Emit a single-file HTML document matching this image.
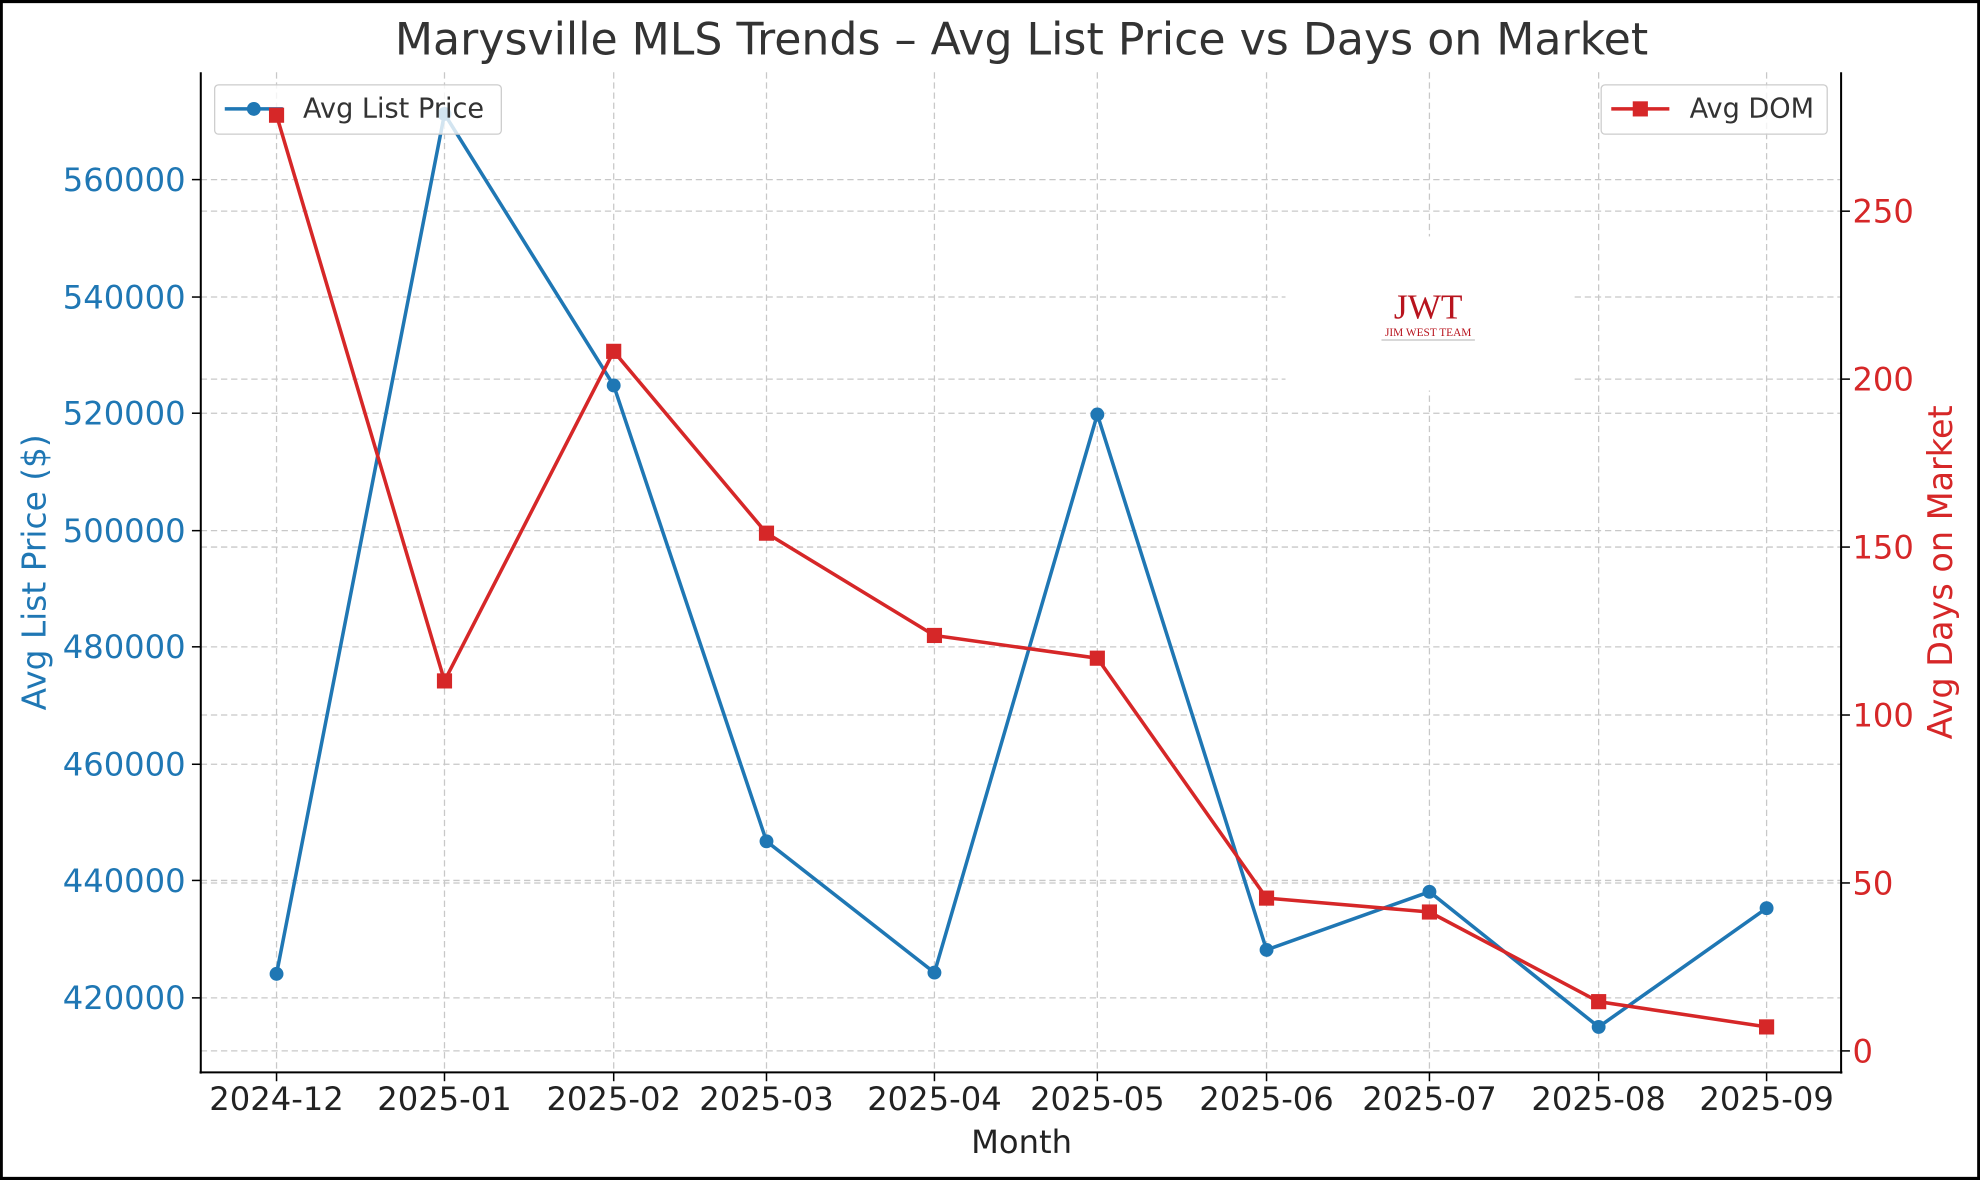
<!DOCTYPE html>
<html><head><meta charset="utf-8"><style>html,body{margin:0;padding:0;background:#fff}svg{display:block}</style></head>
<body>
<svg width="1980" height="1180" viewBox="0 0 1568 934" xmlns="http://www.w3.org/2000/svg" font-family="'DejaVu Sans','Liberation Sans',sans-serif">
<rect x="1" y="1" width="1566" height="932" fill="#fff" stroke="#000" stroke-width="2.5"/>
<g stroke="#c8c8c8" stroke-width="1" stroke-dasharray="5,3">
<line x1="219" y1="57" x2="219" y2="849"/><line x1="352" y1="57" x2="352" y2="849"/><line x1="486" y1="57" x2="486" y2="849"/><line x1="607" y1="57" x2="607" y2="849"/><line x1="740" y1="57" x2="740" y2="849"/><line x1="869" y1="57" x2="869" y2="849"/><line x1="1003" y1="57" x2="1003" y2="849"/><line x1="1132" y1="57" x2="1132" y2="849"/><line x1="1266" y1="57" x2="1266" y2="849"/><line x1="1399" y1="57" x2="1399" y2="849"/>
<line x1="159" y1="142" x2="1458" y2="142"/><line x1="159" y1="235" x2="1458" y2="235"/><line x1="159" y1="327" x2="1458" y2="327"/><line x1="159" y1="420" x2="1458" y2="420"/><line x1="159" y1="512" x2="1458" y2="512"/><line x1="159" y1="605" x2="1458" y2="605"/><line x1="159" y1="697" x2="1458" y2="697"/><line x1="159" y1="790" x2="1458" y2="790"/>
<line x1="159" y1="832" x2="1458" y2="832"/><line x1="159" y1="699" x2="1458" y2="699"/><line x1="159" y1="566" x2="1458" y2="566"/><line x1="159" y1="433" x2="1458" y2="433"/><line x1="159" y1="300" x2="1458" y2="300"/><line x1="159" y1="167" x2="1458" y2="167"/>
</g>
<rect x="1018" y="187" width="228" height="122" fill="#fff"/>
<text x="1131" y="252" text-anchor="middle" font-family="'Liberation Serif',serif" font-size="28" fill="#b8141e">JWT</text>
<text x="1131" y="266" text-anchor="middle" font-family="'Liberation Serif',serif" font-size="9" fill="#b8141e">JIM WEST TEAM</text>
<line x1="1094" y1="269" x2="1168" y2="269" stroke="#999" stroke-width="0.6"/>
<g stroke="#000" stroke-width="1.6" fill="none">
<line x1="159" y1="57" x2="159" y2="850"/><line x1="158" y1="849" x2="1459" y2="849"/><line x1="1458" y1="57" x2="1458" y2="850"/>
</g>
<g stroke="#000" stroke-width="1.2">
<line x1="219" y1="849" x2="219" y2="856"/><line x1="352" y1="849" x2="352" y2="856"/><line x1="486" y1="849" x2="486" y2="856"/><line x1="607" y1="849" x2="607" y2="856"/><line x1="740" y1="849" x2="740" y2="856"/><line x1="869" y1="849" x2="869" y2="856"/><line x1="1003" y1="849" x2="1003" y2="856"/><line x1="1132" y1="849" x2="1132" y2="856"/><line x1="1266" y1="849" x2="1266" y2="856"/><line x1="1399" y1="849" x2="1399" y2="856"/>
<line x1="152" y1="142" x2="159" y2="142"/><line x1="152" y1="235" x2="159" y2="235"/><line x1="152" y1="327" x2="159" y2="327"/><line x1="152" y1="420" x2="159" y2="420"/><line x1="152" y1="512" x2="159" y2="512"/><line x1="152" y1="605" x2="159" y2="605"/><line x1="152" y1="697" x2="159" y2="697"/><line x1="152" y1="790" x2="159" y2="790"/>
<line x1="1458" y1="832" x2="1465" y2="832"/><line x1="1458" y1="699" x2="1465" y2="699"/><line x1="1458" y1="566" x2="1465" y2="566"/><line x1="1458" y1="433" x2="1465" y2="433"/><line x1="1458" y1="300" x2="1465" y2="300"/><line x1="1458" y1="167" x2="1465" y2="167"/>
</g>
<g font-size="25.5" fill="#222" text-anchor="middle">
<text x="219" y="879">2024-12</text><text x="352" y="879">2025-01</text><text x="486" y="879">2025-02</text><text x="607" y="879">2025-03</text><text x="740" y="879">2025-04</text><text x="869" y="879">2025-05</text><text x="1003" y="879">2025-06</text><text x="1132" y="879">2025-07</text><text x="1266" y="879">2025-08</text><text x="1399" y="879">2025-09</text>
<text x="809" y="913">Month</text>
</g>
<text x="809" y="43" text-anchor="middle" font-size="35" fill="#333">Marysville MLS Trends – Avg List Price vs Days on Market</text>
<g font-size="25.5" fill="#1f77b4" text-anchor="end">
<text x="147" y="151">560000</text><text x="147" y="244">540000</text><text x="147" y="336">520000</text><text x="147" y="429">500000</text><text x="147" y="521">480000</text><text x="147" y="614">460000</text><text x="147" y="706">440000</text><text x="147" y="799">420000</text>
</g>
<text transform="translate(36,453) rotate(-90)" text-anchor="middle" font-size="26" fill="#1f77b4">Avg List Price ($)</text>
<g font-size="25.5" fill="#d62728">
<text x="1467" y="841">0</text><text x="1467" y="708">50</text><text x="1467" y="575">100</text><text x="1467" y="442">150</text><text x="1467" y="309">200</text><text x="1467" y="176">250</text>
</g>
<text transform="translate(1546,453) rotate(-90)" text-anchor="middle" font-size="26.5" fill="#d62728">Avg Days on Market</text>
<polyline fill="none" stroke="#1f77b4" stroke-width="2.8" points="219,771 352,90 486,305 607,666 740,770 869,328 1003,752 1132,706 1266,813 1399,719"/>
<g fill="#1f77b4">
<circle cx="219" cy="771" r="5.5"/><circle cx="352" cy="90" r="5.5"/><circle cx="486" cy="305" r="5.5"/><circle cx="607" cy="666" r="5.5"/><circle cx="740" cy="770" r="5.5"/><circle cx="869" cy="328" r="5.5"/><circle cx="1003" cy="752" r="5.5"/><circle cx="1132" cy="706" r="5.5"/><circle cx="1266" cy="813" r="5.5"/><circle cx="1399" cy="719" r="5.5"/>
</g>
<rect x="170" y="67" width="227" height="39" rx="3" fill="#fff" fill-opacity="0.8" stroke="#ccc"/>
<line x1="178" y1="86" x2="224" y2="86" stroke="#1f77b4" stroke-width="2.8"/><circle cx="201" cy="86" r="5.5" fill="#1f77b4"/>
<text x="240" y="93" font-size="21.5" fill="#333">Avg List Price</text>
<polyline fill="none" stroke="#d62728" stroke-width="2.8" points="219,91 352,539 486,278 607,422 740,503 869,521 1003,711 1132,722 1266,793 1399,813"/>
<g fill="#d62728">
<rect x="213" y="85" width="12" height="12"/><rect x="346" y="533" width="12" height="12"/><rect x="480" y="272" width="12" height="12"/><rect x="601" y="416" width="12" height="12"/><rect x="734" y="497" width="12" height="12"/><rect x="863" y="515" width="12" height="12"/><rect x="997" y="705" width="12" height="12"/><rect x="1126" y="716" width="12" height="12"/><rect x="1260" y="787" width="12" height="12"/><rect x="1393" y="807" width="12" height="12"/>
</g>
<rect x="1268" y="67" width="179" height="39" rx="3" fill="#fff" fill-opacity="0.8" stroke="#ccc"/>
<line x1="1276" y1="86" x2="1322" y2="86" stroke="#d62728" stroke-width="2.8"/><rect x="1293" y="80" width="12" height="12" fill="#d62728"/>
<text x="1338" y="93" font-size="21.5" fill="#333">Avg DOM</text>
</svg>
</body></html>
